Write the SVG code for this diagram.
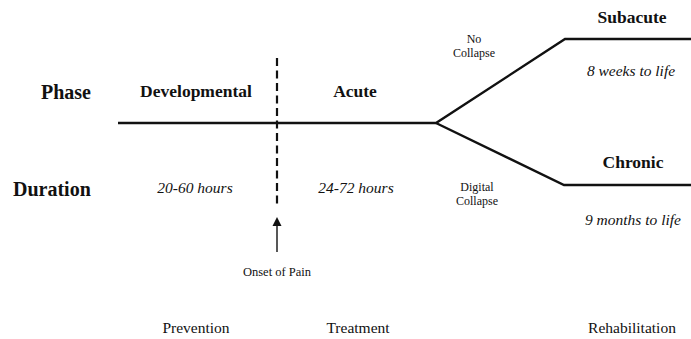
<svg xmlns="http://www.w3.org/2000/svg" width="691" height="339" viewBox="0 0 691 339">
<style>
text{font-family:"Liberation Serif","Times New Roman",serif;fill:#111;}
.hdr{font-weight:bold;font-size:20px;}
.ph{font-weight:bold;font-size:17.5px;}
.dur{font-style:italic;font-size:15.5px;}
.sm{font-size:12.5px;}
.sm2{font-size:12px;}
.bt{font-size:15.5px;}
.ln{stroke:#111;stroke-width:2.4;fill:none;}
</style>
<g id="labels">
<text class="hdr" x="41" y="99">Phase</text>
<text class="hdr" x="13" y="196">Duration</text>
</g>
<g id="connectors">
<path class="ln" d="M118,123 L436,123 L565,39 L691,39"/>
<path class="ln" d="M436,123 L564,185 L691,185"/>
<line x1="277" y1="58" x2="277" y2="205" stroke="#111" stroke-width="2.2" stroke-dasharray="8,4.5"/>
<line x1="277" y1="252" x2="277" y2="224" stroke="#111" stroke-width="1.4"/>
<path d="M277,217 L281.5,226 L272.5,226 Z" fill="#111"/>
</g>
<g id="developmental">
<text class="ph" x="196" y="97" text-anchor="middle">Developmental</text>
<text class="dur" x="195" y="193" text-anchor="middle">20-60 hours</text>
<text class="bt" x="196" y="333" text-anchor="middle">Prevention</text>
</g>
<g id="onset">
<text class="sm" x="277" y="276" text-anchor="middle">Onset of Pain</text>
</g>
<g id="acute">
<text class="ph" x="355" y="97" text-anchor="middle">Acute</text>
<text class="dur" x="356" y="193" text-anchor="middle">24-72 hours</text>
<text class="bt" x="358" y="333" text-anchor="middle">Treatment</text>
</g>
<g id="no-collapse">
<text class="sm2" x="474" y="43" text-anchor="middle">No</text>
<text class="sm2" x="474" y="56.5" text-anchor="middle">Collapse</text>
</g>
<g id="digital-collapse">
<text class="sm2" x="477" y="191" text-anchor="middle">Digital</text>
<text class="sm2" x="477" y="205" text-anchor="middle">Collapse</text>
</g>
<g id="subacute">
<text class="ph" x="632" y="23" text-anchor="middle">Subacute</text>
<text class="dur" x="631" y="76" text-anchor="middle">8 weeks to life</text>
</g>
<g id="chronic">
<text class="ph" x="633" y="168" text-anchor="middle">Chronic</text>
<text class="dur" x="633" y="225" text-anchor="middle">9 months to life</text>
<text class="bt" x="632" y="333" text-anchor="middle">Rehabilitation</text>
</g>
</svg>
